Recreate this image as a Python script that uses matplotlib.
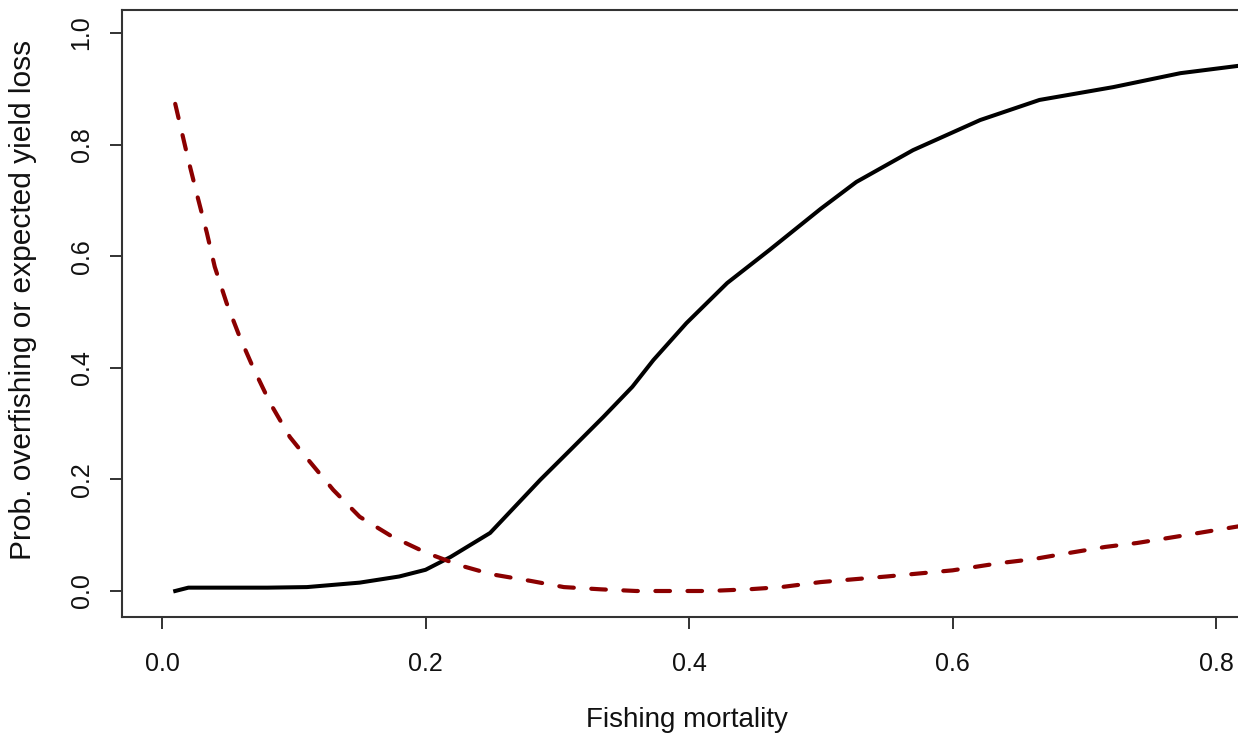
import matplotlib.pyplot as plt

plt.rcParams['font.family'] = ['Liberation Sans', 'DejaVu Sans']

# probability of overfishing (solid black)
f_over = [0.01, 0.02, 0.05, 0.08, 0.11, 0.15, 0.18, 0.2, 0.219, 0.249, 0.287, 0.31,
          0.335, 0.357, 0.373, 0.398, 0.429, 0.461, 0.5, 0.527, 0.57, 0.621, 0.666,
          0.722, 0.773, 0.82]
p_over = [0.0, 0.006, 0.006, 0.006, 0.007, 0.015, 0.026, 0.038, 0.061, 0.104, 0.199,
          0.253, 0.312, 0.366, 0.414, 0.48, 0.552, 0.611, 0.685, 0.733, 0.79, 0.844,
          0.88, 0.903, 0.928, 0.942]

# expected yield loss (dashed dark red)
f_loss = [0.01, 0.02, 0.027, 0.034, 0.04, 0.049, 0.059, 0.069, 0.082, 0.097, 0.111,
          0.13, 0.15, 0.175, 0.201, 0.226, 0.25, 0.28, 0.305, 0.333, 0.36, 0.388,
          0.415, 0.445, 0.47, 0.5, 0.55, 0.6, 0.636, 0.661, 0.688, 0.716, 0.74,
          0.769, 0.797, 0.82]
y_loss = [0.873, 0.772, 0.706, 0.642, 0.581, 0.516, 0.455, 0.401, 0.337, 0.276, 0.235,
          0.181, 0.133, 0.097, 0.068, 0.046, 0.03, 0.018, 0.007, 0.003, 0.0, 0.0,
          0.0, 0.003, 0.007, 0.016, 0.026, 0.037, 0.05, 0.057, 0.068, 0.079, 0.086,
          0.097, 0.108, 0.117]

x_ticks = [0.0, 0.2, 0.4, 0.6, 0.8]
y_ticks = [0.0, 0.2, 0.4, 0.6, 0.8, 1.0]

fig = plt.figure(figsize=(12.38, 7.33), dpi=100)
ax = fig.add_axes([122 / 1238, 1 - 617 / 733, 1 - 122 / 1238, (617 - 10) / 733])

ax.plot(f_over, p_over, color='black', lw=2.9, solid_joinstyle='round')
ax.plot(f_loss, y_loss, color='#8b0000', lw=3.0, ls=(0, (3.5, 4.2)),
        dash_capstyle='round', dash_joinstyle='round')

ax.set_xlim(-0.0304, 0.8167)
ax.set_ylim(-0.0466, 1.0412)
ax.set_xticks(x_ticks)
ax.set_yticks(y_ticks)
ax.set_xticklabels([f'{v:.1f}' for v in x_ticks])
ax.set_yticklabels([f'{v:.1f}' for v in y_ticks], rotation=90, va='center')
ax.tick_params(axis='both', labelsize=18, length=8.5, width=1.3, color='#222222',
               labelcolor='#111111')
ax.tick_params(axis='x', pad=17)
ax.tick_params(axis='y', pad=12)

for side in ['left', 'bottom', 'top']:
    ax.spines[side].set_linewidth(1.5)
    ax.spines[side].set_color('#333333')
ax.spines['right'].set_visible(False)

ax.set_xlabel('Fishing mortality', fontsize=20, color='#111111')
ax.set_ylabel('Prob. overfishing or expected yield loss', fontsize=21.5, color='#111111')
ax.xaxis.set_label_coords((687 - 122) / 1116, -(707 - 617) / 607)
ax.yaxis.set_label_coords(-(122 - 37) / 1116, (617 - 300) / 607)

fig.savefig('out.png', dpi=100)
